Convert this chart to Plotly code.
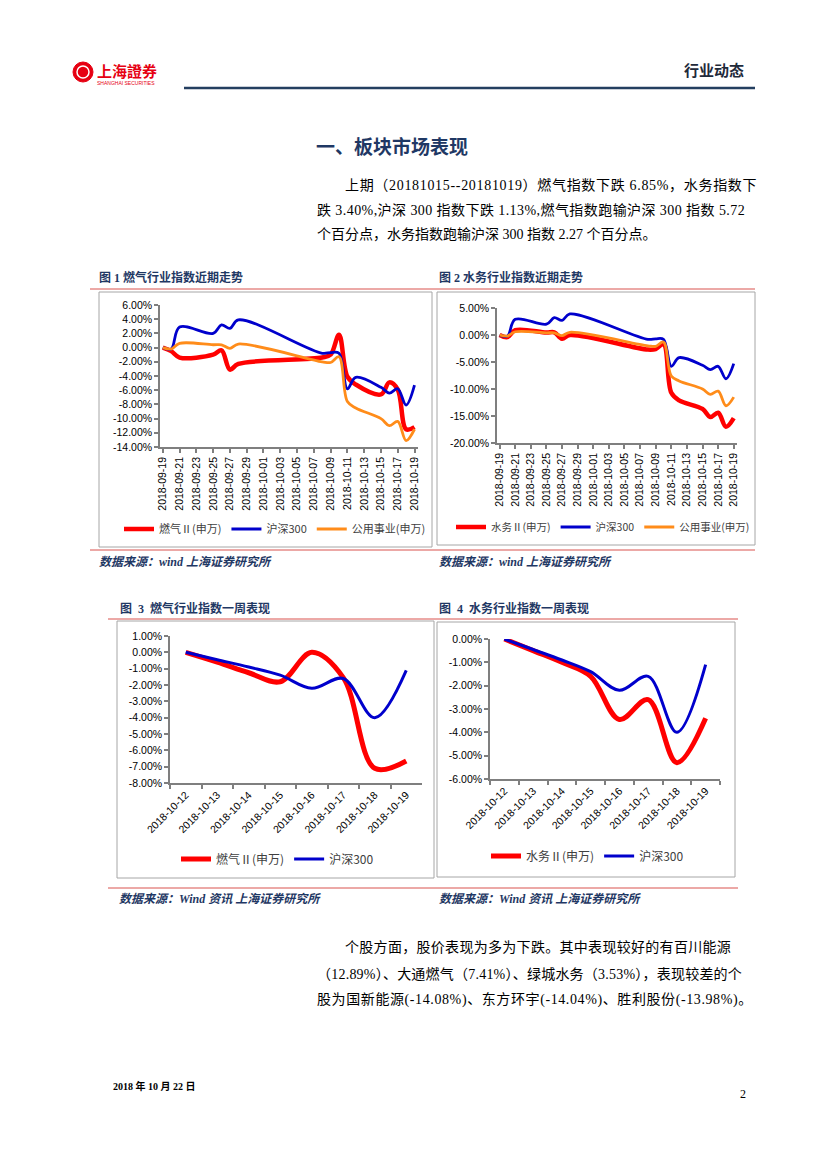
import plotly.graph_objects as go

# ---------------- data ----------------
dates_month = ['2018-09-19', '2018-09-20', '2018-09-21', '2018-09-25', '2018-09-26',
               '2018-09-27', '2018-09-28', '2018-10-08', '2018-10-09', '2018-10-10',
               '2018-10-11', '2018-10-12', '2018-10-15', '2018-10-16', '2018-10-17',
               '2018-10-18', '2018-10-19']
gas_month = [0.0, -0.5, -1.4, -1.0, -0.4, -3.1, -2.3, -1.4, -1.0, 1.8,
             -4.1, -5.2, -6.6, -4.9, -5.9, -11.5, -11.2]
hs300_month = [0.0, -0.2, 2.9, 2.0, 3.2, 2.7, 3.9, -0.8, -0.7, -0.8,
               -5.8, -4.2, -5.6, -6.4, -5.8, -8.1, -5.3]
util_month = [0.0, -0.2, 0.6, 0.4, 0.4, -0.1, 0.5, -2.0, -2.1, -1.3,
              -7.6, -8.5, -10.0, -11.0, -10.4, -13.1, -11.5]
water_month = [0.0, -0.4, 0.9, 0.45, 0.5, -0.7, 0.0, -2.7, -2.6, -1.7,
               -10.7, -12.1, -13.7, -15.2, -14.4, -17.0, -15.4]

dates_week = ['2018-10-12', '2018-10-13', '2018-10-14', '2018-10-15',
              '2018-10-16', '2018-10-17', '2018-10-18', '2018-10-19']
gas_week = [0.0, -0.6, -1.25, -1.8, 0.0, -1.55, -7.1, -6.65]
hs300_week = [0.0, -0.45, -0.9, -1.4, -2.2, -1.6, -4.0, -1.1]
water_week = [0.0, -0.5, -1.0, -1.6, -3.45, -2.6, -5.3, -3.4]

y1_ticks = [6, 4, 2, 0, -2, -4, -6, -8, -10, -12, -14]
y2_ticks = [5, 0, -5, -10, -15, -20]
y3_ticks = [1, 0, -1, -2, -3, -4, -5, -6, -7, -8]
y4_ticks = [0, -1, -2, -3, -4, -5, -6]

name_gas = '燃气Ⅱ(申万)'
name_water = '水务Ⅱ(申万)'
name_hs = '沪深300'
name_util = '公用事业(申万)'

para1 = ["上期（20181015--20181019）燃气指数下跌 6.85%，水务指数下",
         "跌 3.40%,沪深 300 指数下跌 1.13%,燃气指数跑输沪深 300 指数 5.72",
         "个百分点，水务指数跑输沪深 300 指数 2.27 个百分点。"]
para2 = ["个股方面，股价表现为多为下跌。其中表现较好的有百川能源",
         "（12.89%）、大通燃气（7.41%）、绿城水务（3.53%），表现较差的个",
         "股为国新能源(-14.08%)、东方环宇(-14.04%)、胜利股份(-13.98%)。"]

# ---------------- helpers ----------------
# the page body has an 8px margin, so the figure is 16px smaller than the window
# and page pixel (px, py) maps to figure pixel (px-8, py-8)
PAGE_W, PAGE_H = 827, 1169
OFF = 8
W, H = PAGE_W - 2 * OFF, PAGE_H - 2 * OFF
def X(px):
    return (px - OFF) / W
def Y(py):
    return 1 - (py - OFF) / H

RED = '#FF0000'
BLUE = '#0000CC'
ORANGE = '#FF8C1A'
NAVY = '#1F3864'
CJK = 'Noto Sans CJK SC'
SERIF = 'Liberation Serif, Noto Sans CJK SC'
SANS = 'Liberation Sans, Arial, sans-serif'

fig = go.Figure()

# chart 1
fig.add_trace(go.Scatter(x=dates_month, y=gas_month, name=name_gas, mode='lines',
                         line=dict(color=RED, width=4.5, shape='spline'),
                         xaxis='x', yaxis='y', legend='legend'))
fig.add_trace(go.Scatter(x=dates_month, y=hs300_month, name=name_hs, mode='lines',
                         line=dict(color=BLUE, width=2.8, shape='spline'),
                         xaxis='x', yaxis='y', legend='legend'))
fig.add_trace(go.Scatter(x=dates_month, y=util_month, name=name_util, mode='lines',
                         line=dict(color=ORANGE, width=2.8, shape='spline'),
                         xaxis='x', yaxis='y', legend='legend'))
# chart 2
fig.add_trace(go.Scatter(x=dates_month, y=water_month, name=name_water, mode='lines',
                         line=dict(color=RED, width=4.5, shape='spline'),
                         xaxis='x2', yaxis='y2', legend='legend2'))
fig.add_trace(go.Scatter(x=dates_month, y=hs300_month, name=name_hs, mode='lines',
                         line=dict(color=BLUE, width=2.8, shape='spline'),
                         xaxis='x2', yaxis='y2', legend='legend2'))
fig.add_trace(go.Scatter(x=dates_month, y=util_month, name=name_util, mode='lines',
                         line=dict(color=ORANGE, width=2.8, shape='spline'),
                         xaxis='x2', yaxis='y2', legend='legend2'))
# chart 3
fig.add_trace(go.Scatter(x=dates_week, y=gas_week, name=name_gas, mode='lines',
                         line=dict(color=RED, width=5, shape='spline'),
                         xaxis='x3', yaxis='y3', legend='legend3'))
fig.add_trace(go.Scatter(x=dates_week, y=hs300_week, name=name_hs, mode='lines',
                         line=dict(color=BLUE, width=3, shape='spline'),
                         xaxis='x3', yaxis='y3', legend='legend3'))
# chart 4
fig.add_trace(go.Scatter(x=dates_week, y=water_week, name=name_water, mode='lines',
                         line=dict(color=RED, width=5, shape='spline'),
                         xaxis='x4', yaxis='y4', legend='legend4'))
fig.add_trace(go.Scatter(x=dates_week, y=hs300_week, name=name_hs, mode='lines',
                         line=dict(color=BLUE, width=3, shape='spline'),
                         xaxis='x4', yaxis='y4', legend='legend4'))

axis_common = dict(showline=True, linecolor='#7F7F7F', linewidth=1.5,
                   ticks='outside', ticklen=4, tickcolor='#7F7F7F', tickwidth=1.5,
                   showgrid=False, zeroline=False, fixedrange=True, automargin=False,
                   tickfont=dict(family=SANS, size=10.5, color='#000000'))

def yaxis(ticks, dom):
    return dict(axis_common, range=[min(ticks), max(ticks)], tickmode='array',
                tickvals=ticks, ticktext=[f"{v:.2f}%" for v in ticks], domain=dom)

date_axis = dict(axis_common, type='date', tickformat='%Y-%m-%d', tick0='2018-09-19',
                 dtick=2 * 86400000, tickangle=-90,
                 range=['2018-09-18 16:00', '2018-10-19 10:00'])
cat_axis = dict(axis_common, type='category', tickson='boundaries', tickangle=-45,
                range=[-0.5, 7.5])

def legend_style(size):
    return dict(orientation='h', xanchor='left', yanchor='middle',
                bgcolor='rgba(0,0,0,0)', itemwidth=30, traceorder='normal',
                font=dict(family=CJK, size=size, color='#404040'))

fig.update_layout(
    template='none',
    width=W, height=H,
    margin=dict(l=0, r=0, t=0, b=0, pad=0, autoexpand=False),
    paper_bgcolor='white', plot_bgcolor='white', showlegend=True,
    xaxis=dict(date_axis, domain=[X(160), X(418)], anchor='y'),
    yaxis=dict(yaxis(y1_ticks, [Y(447), Y(305)]), anchor='x'),
    xaxis2=dict(date_axis, domain=[X(497), X(737)], anchor='y2'),
    yaxis2=dict(yaxis(y2_ticks, [Y(443), Y(308)]), anchor='x2'),
    xaxis3=dict(cat_axis, domain=[X(170), X(422)], anchor='y3'),
    yaxis3=dict(yaxis(y3_ticks, [Y(783), Y(636)]), anchor='x3'),
    xaxis4=dict(cat_axis, domain=[X(490), X(720)], anchor='y4'),
    yaxis4=dict(yaxis(y4_ticks, [Y(779), Y(639)]), anchor='x4'),
    legend=dict(legend_style(11), x=X(119), y=Y(529)),
    legend2=dict(legend_style(10.5), x=X(451), y=Y(527)),
    legend3=dict(legend_style(12), x=X(176), y=Y(859)),
    legend4=dict(legend_style(12), x=X(486), y=Y(856)),
)

shapes = []
def hline(x0, x1, y, color, width):
    shapes.append(dict(type='line', xref='paper', yref='paper', x0=X(x0), x1=X(x1),
                       y0=Y(y), y1=Y(y), line=dict(color=color, width=width)))
def box(x0, y0, x1, y1):
    shapes.append(dict(type='rect', xref='paper', yref='paper', x0=X(x0), x1=X(x1),
                       y0=Y(y1), y1=Y(y0), line=dict(color='#A6A6A6', width=1),
                       fillcolor='rgba(0,0,0,0)', layer='below'))

hline(184, 755, 88, '#243F60', 2.5)
hline(90, 755, 289, '#D9534F', 1)
hline(90, 755, 550, '#D9534F', 1)
hline(108, 738, 619, '#D9534F', 1)
hline(108, 738, 888, '#D9534F', 1)
box(99, 292, 432, 547)
box(437, 292, 755, 545)
box(117, 621, 434, 878)
box(437, 622, 735, 877)
# logo circle
shapes.append(dict(type='circle', xref='paper', yref='paper', x0=X(73), x1=X(93),
                   y0=Y(82), y1=Y(62), fillcolor='#E60012', line=dict(color='#E60012', width=1)))
shapes.append(dict(type='circle', xref='paper', yref='paper', x0=X(77), x1=X(89),
                   y0=Y(78), y1=Y(66), fillcolor='rgba(0,0,0,0)', line=dict(color='white', width=1.5)))

annotations = []
def text(x, y, s, size, color='#000000', family=CJK, anchor='left', bold=False,
         italic=False, spacing=0):
    if spacing:
        s = f'<span style="letter-spacing:{spacing}px">{s}</span>'
    if bold:
        s = f"<b>{s}</b>"
    if italic:
        s = f"<i>{s}</i>"
    annotations.append(dict(xref='paper', yref='paper', x=X(x), y=Y(y), text=s,
                            showarrow=False, xanchor=anchor, yanchor='middle',
                            font=dict(size=size, color=color, family=family)))

text(95, 71, "上海證券", 15, '#E60012', 'Noto Sans CJK TC', bold=True)
text(95, 83, "SHANGHAI SECURITIES", 5, '#E60012', SANS)
text(746, 70, "行业动态", 15, '#1F2A3A', anchor='right', bold=True)
text(314, 146, "一、板块市场表现", 19, NAVY, bold=True)

para1_spacing = [0.68, 0.43, 0]
para2_spacing = [0.3, 0.22, 0.6]
for i, line in enumerate(para1):
    text(343 if i == 0 else 315, 185 + 25 * i, line, 14, '#000000', SERIF,
         spacing=para1_spacing[i])
for i, line in enumerate(para2):
    text(343 if i == 0 else 315, 947 + 26.5 * i, line, 14, '#000000', SERIF,
         spacing=para2_spacing[i])

text(97, 277, "图 1 燃气行业指数近期走势", 12, NAVY, SERIF, bold=True)
text(437, 277, "图 2 水务行业指数近期走势", 12, NAVY, SERIF, bold=True)
text(118, 608, "图  3  燃气行业指数一周表现", 12, NAVY, SERIF, bold=True)
text(437, 608, "图  4  水务行业指数一周表现", 12, NAVY, SERIF, bold=True)
text(97, 562, "数据来源：wind 上海证券研究所", 12, NAVY, SERIF, bold=True, italic=True)
text(437, 562, "数据来源：wind 上海证券研究所", 12, NAVY, SERIF, bold=True, italic=True)
text(117, 899, "数据来源：Wind 资讯 上海证券研究所", 12, NAVY, SERIF, bold=True, italic=True)
text(437, 899, "数据来源：Wind 资讯 上海证券研究所", 12, NAVY, SERIF, bold=True, italic=True)

text(111, 1086, "2018 年 10 月 22 日", 10, '#000000', SERIF, bold=True)
text(748, 1094, "2", 12, '#000000', SERIF, anchor='right')

fig.update_layout(shapes=shapes, annotations=annotations)
fig.write_html("out.html")
